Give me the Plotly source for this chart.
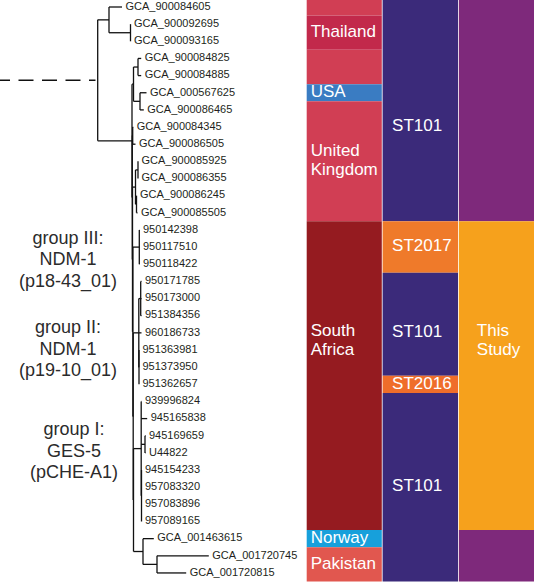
import plotly.graph_objects as go

# ------------------------------------------------------------------ data
leaf_names = [
    "GCA_900084605", "GCA_900092695", "GCA_900093165", "GCA_900084825",
    "GCA_900084885", "GCA_000567625", "GCA_900086465", "GCA_900084345",
    "GCA_900086505", "GCA_900085925", "GCA_900086355", "GCA_900086245",
    "GCA_900085505", "950142398", "950117510", "950118422", "950171785",
    "950173000", "951384356", "960186733", "951363981", "951373950",
    "951362657", "939996824", "945165838", "945169659", "U44822",
    "945154233", "957083320", "957083896", "957089165", "GCA_001463615",
    "GCA_001720745", "GCA_001720815",
]

# tip depth of each leaf (tree distance units, root branch cut)
leaf_depths = [
    122, 130.5, 130.5, 141.2, 141.2, 146.5, 143.8, 133.2, 135.5, 138,
    138, 136.5, 137.5, 139.5, 139.5, 139.5, 141.5, 141.5, 141.5, 141.5,
    139, 139, 139, 141.5, 147.2, 145.5, 145.5, 141.5, 141.5, 141.5,
    141.5, 153.8, 208.8, 186.2,
]

# topology: (node depth, [children]) ; ints are leaf indices
tree = (97.7, [
    (109, [0, (130.5, [1, 2])]),
    (132, [
        (133.5, [(138, [3, 4]), (140, [5, 6])]),
        (132.3, [
            (132.7, [7, 8]),
            (132.5, [
                (135.5, [(138, [9, 10]), (136.5, [11, 12])]),
                (132.9, [
                    (139.3, [13, 14, 15]),
                    (133.2, [
                        (138.8, [(140.7, [16, 17, 18]), 19, (139, [20, 21, 22])]),
                        (133.5, [
                            (141.2, [23, 24, (145, [25, 26]), (141.5, [27, 28, 29, 30])]),
                            (143, [31, (157, [32, 33])]),
                        ]),
                    ]),
                ]),
            ]),
        ]),
    ]),
])

countries = (["United Kingdom", "Thailand", "Thailand", "United Kingdom",
              "United Kingdom", "USA"] + ["United Kingdom"] * 7
             + ["South Africa"] * 18 + ["Norway", "Pakistan", "Pakistan"])
sequence_types = (["ST101"] * 13 + ["ST2017"] * 3 + ["ST101"] * 6
                  + ["ST2016"] + ["ST101"] * 11)
study = ["Other"] * 13 + ["This Study"] * 18 + ["Other"] * 3

group_labels = [
    ["group III:", "NDM-1", "(p18-43_01)"],
    ["group II:", "NDM-1", "(p19-10_01)"],
    ["group I:", "GES-5", "(pCHE-A1)"],
]

# ------------------------------------------------------------------ style
country_colors = {"United Kingdom": "#d13e54", "Thailand": "#c2294b",
                  "USA": "#3a7cc2", "South Africa": "#951b20",
                  "Norway": "#17a0db", "Pakistan": "#e1574f"}
st_colors = {"ST101": "#3b2a7a", "ST2017": "#ef7a2a", "ST2016": "#ef6d2a"}
study_colors = {"Other": "#7e297b", "This Study": "#f6a11c"}

ROW0_PX, ROW_PX = 7.0, 17.15
W, H = 534, 583
FONT = "Liberation Sans, Arial, sans-serif"
TEXT_COLOR = "#231f20"

columns = [  # (values, colours, left, right, text inset, label mode)
    (countries, country_colors, 306.7, 381.8, 4, "longest"),
    (sequence_types, st_colors, 382.6, 458.0, 9.5, "all"),
    (study, study_colors, 458.8, 534.5, 18, "this"),
]
label_row_override = {("South Africa", 14): 20.5, ("ST101", 1): 8,
                      ("ST101", 17): 20, ("This Study", 14): 20.5}
group_label_rows = [15.8, 21.0, 26.95]
group_label_x = [68, 68, 74]

# ------------------------------------------------------------------ tree layout
n = len(leaf_names)
rows = list(range(1, n + 1))
seg_x, seg_y = [], []


def layout(node):
    """returns (depth, row) of node and records segments"""
    if isinstance(node, int):
        return leaf_depths[node], rows[node]
    depth, children = node
    pos = [layout(c) for c in children]
    y = (pos[0][1] + pos[-1][1]) / 2
    seg_x.extend([depth, depth, None])
    seg_y.extend([pos[0][1], pos[-1][1], None])
    for cd, cy in pos:
        seg_x.extend([depth, cd, None])
        seg_y.extend([cy, cy, None])
    return depth, y


root_depth, root_y = layout(tree)

fig = go.Figure()

fig.add_trace(go.Scatter(x=seg_x, y=seg_y, mode="lines",
                         line=dict(color="#111111", width=1.3),
                         hoverinfo="skip", showlegend=False))
fig.add_trace(go.Scatter(x=[-5, root_depth - 2.2], y=[root_y, root_y], mode="lines",
                         line=dict(color="#111111", width=1.5, dash="15px,8.5px"),
                         hoverinfo="skip", showlegend=False))

fig.add_trace(go.Scatter(x=[d + 3.5 for d in leaf_depths], y=rows, mode="text",
                         text=leaf_names, textposition="middle right",
                         textfont=dict(family=FONT, size=11, color=TEXT_COLOR),
                         hoverinfo="skip", showlegend=False))

# ------------------------------------------------------------------ metadata columns
line_gap_rows = 19.5 / ROW_PX
tx, ty, tt = [], [], []
for values, cmap, left, right, inset, mode in columns:
    runs = []
    start = 0
    for i in range(1, n + 1):
        if i == n or values[i] != values[start]:
            runs.append((values[start], start + 1, i))
            start = i
    fig.add_trace(go.Bar(
        x=[(left + right) / 2] * len(runs),
        base=[s - 0.5 for _, s, e in runs],
        y=[e - s + 1 for _, s, e in runs],
        width=[right - left] * len(runs),
        marker=dict(color=[cmap[v] for v, _, _ in runs], line=dict(width=0)),
        hoverinfo="skip", showlegend=False))
    longest = {}
    for v, s, e in runs:
        if v not in longest or (e - s) > (longest[v][1] - longest[v][0]):
            longest[v] = (s, e)
    for v, s, e in runs:
        if mode == "longest" and longest[v] != (s, e):
            continue
        if mode == "this" and v != "This Study":
            continue
        r = label_row_override.get((v, s), (s + e) / 2)
        parts = v.split(" ") if len(v) > 9 or v == "This Study" else [v]
        for k, p in enumerate(parts):
            tx.append(left + inset)
            ty.append(r + (k - (len(parts) - 1) / 2) * line_gap_rows)
            tt.append(p)

fig.add_trace(go.Scatter(x=tx, y=ty, mode="text", text=tt,
                         textposition="middle right",
                         textfont=dict(family=FONT, size=17, color="white"),
                         hoverinfo="skip", showlegend=False))

# group annotations
gx, gy, gt = [], [], []
g_gap = 21.5 / ROW_PX
for lines, r, xc in zip(group_labels, group_label_rows, group_label_x):
    for k, t in enumerate(lines):
        gx.append(xc)
        gy.append(r + (k - 1) * g_gap)
        gt.append(t)
fig.add_trace(go.Scatter(x=gx, y=gy, mode="text", text=gt,
                         textposition="middle center",
                         textfont=dict(family=FONT, size=18, color="#2b2b2b"),
                         hoverinfo="skip", showlegend=False))

y_top = 1 - ROW0_PX / ROW_PX
y_bot = 1 + (H - ROW0_PX) / ROW_PX
fig.update_layout(
    width=W, height=H, margin=dict(l=0, r=0, t=0, b=0),
    paper_bgcolor="white", plot_bgcolor="white", barmode="overlay",
    xaxis=dict(range=[0, W], visible=False, fixedrange=True),
    yaxis=dict(range=[y_bot, y_top], visible=False, fixedrange=True),
    showlegend=False,
)

fig.write_html("out.html", config={"displayModeBar": False},
               post_script="document.body.style.margin='0px';"
                           "document.body.style.overflow='hidden';")
